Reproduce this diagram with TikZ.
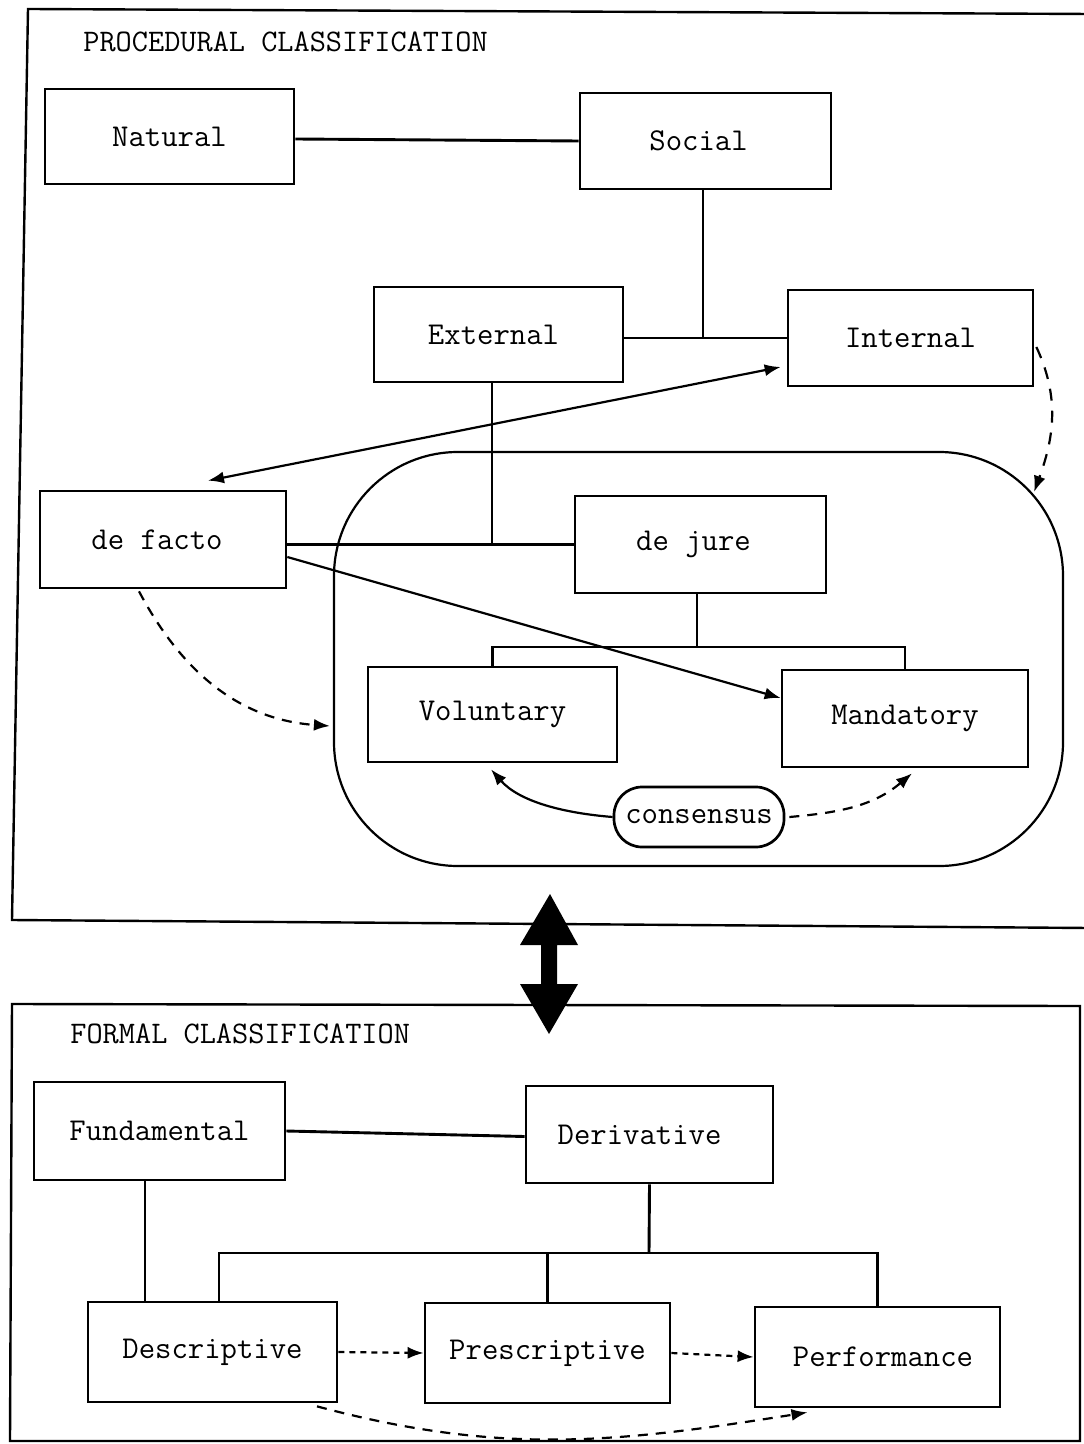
\documentclass[tikz,border=0pt]{standalone}
\usepackage{fontspec}
\usetikzlibrary{arrows.meta}
\newcommand\boxfont{\ttfamily\addfontfeatures{FakeBold=0.6}\fontsize{15.9}{18}\selectfont}
\newcommand\titlefont{\ttfamily\addfontfeatures{FakeBold=0.6}\fontsize{15.7}{18}\selectfont}
\newcommand\pad[1]{\rule{#1}{0pt}}
\tikzset{
  bx/.style={draw, line width=1.35pt, rectangle, inner sep=0pt, font=\boxfont},
  sz/.style 2 args={minimum width=#1, minimum height=#2},
  ln/.style={line width=1.45pt},
  thin/.style={line width=1.1pt},
  tip/.style={-{Latex[length=8pt,width=6pt]}},
  dsh/.style={line width=1.1pt, dash pattern=on 5pt off 4pt},
  ldsh/.style={line width=1.1pt, dash pattern=on 6pt off 5pt},
  dot/.style={line width=1.1pt, dash pattern=on 3pt off 2.5pt},
  frame/.style={line width=1.2pt},
}
\begin{document}
\begin{tikzpicture}[x=0.5pt,y=-0.5pt]
\useasboundingbox (0,0) rectangle (1083,1444);
% frames
\draw[frame] (28,9) -- (1090,14) -- (1090,928) -- (12,920) -- cycle;
\draw[frame] (12,1004) -- (1080,1006) -- (1080,1441) -- (10,1441) -- cycle;
% titles
\node[anchor=base west, inner sep=0pt, font=\titlefont] (t1) at (83,51.5) {PROCEDURAL CLASSIFICATION};
\node[anchor=base west, inner sep=0pt, font=\titlefont] (t2) at (70,1043) {FORMAL CLASSIFICATION};
% region
\node[draw, line width=1.1pt, rounded corners=62pt, minimum width=364.5pt, minimum height=207pt, inner sep=0pt] (reg) at (698.5,659) {};
% boxes
\node[bx, sz={124.5pt}{47.5pt}] (nat) at (169.5,136.5) {Natural};
\node[bx, sz={125.5pt}{48pt}] (soc) at (705.5,141) {Social\pad{7pt}};
\node[bx, sz={124.5pt}{47.5pt}] (ext) at (498.5,334.5) {External\pad{5pt}};
\node[bx, sz={122.5pt}{48pt}] (int) at (910.5,338) {Internal};
\node[bx, sz={123pt}{48.5pt}] (df) at (163,539.5) {de facto\pad{6pt}};
\node[bx, sz={125.5pt}{48.5pt}] (dj) at (700.5,544.5) {de jure\pad{7pt}};
\node[bx, sz={124.5pt}{47.5pt}] (vol) at (492.5,714.5) {Voluntary};
\node[bx, sz={123pt}{48.5pt}] (man) at (905,718.5) {Mandatory};
\node[bx, sz={85pt}{30pt}, rounded corners=14pt] (con) at (699,817) {consensus};
\node[bx, sz={125.5pt}{49pt}] (fun) at (159.5,1131) {Fundamental};
\node[bx, sz={123.5pt}{48.5pt}] (der) at (649.5,1134.5) {Derivative\pad{10pt}};
\node[bx, sz={124.5pt}{50pt}] (desc) at (212.5,1352) {Descriptive};
\node[bx, sz={122.5pt}{50pt}] (pres) at (547.5,1353) {Prescriptive};
\node[bx, sz={122.5pt}{50pt}] (perf) at (877.5,1357) {\pad{5.5pt}Performance};
% tree lines (procedural)
\draw[ln] ([yshift=-1.25pt]nat.east) -- (soc.west);
\draw[ln] (int.west -| ext.east) -- (int.west);
\draw[ln] ([xshift=-1.25pt]soc.south) -- ([xshift=-1.25pt]soc.south |- int.west);
\draw[ln] (dj.west -| df.east) -- (dj.west);
\draw[ln] ([xshift=-3.25pt]ext.south) coordinate (es) -- (es |- dj.west);
\coordinate (b1) at (697,647);
\draw[ln] (dj.south -| b1) -- (b1);
\draw[ln] (vol.north) |- (b1) -| (man.north);
% arrows (procedural)
\draw[thin, {Latex[length=8pt,width=6pt]}-{Latex[length=8pt,width=6pt]}]
  ([xshift=22.5pt,yshift=4.5pt]df.north) -- ([xshift=-3pt,yshift=-14.5pt]int.west);
\draw[thin, tip] ([yshift=-8.75pt]df.east) -- ([yshift=10.25pt]man.west);
\draw[ldsh, tip] ([xshift=1pt,yshift=-4.5pt]int.east) to[out=-65,in=70] ([xshift=-15pt,yshift=-20.5pt]reg.north east);
\draw[dsh, tip] ([xshift=-12pt,yshift=-1pt]df.south) to[out=-62,in=176] ([xshift=-1.5pt,yshift=-33.5pt]reg.west);
\draw[thin, tip] (con.west) .. controls +(-50,-4) and +(28,32) .. ([xshift=-0.75pt,yshift=-3pt]vol.south);
\draw[dsh, tip] ([xshift=2pt]con.east) to[out=5,in=-140] ([xshift=3.5pt,yshift=-2.5pt]man.south);
% big double arrow
\fill (550,894) -- (578,945) -- (557,945) -- (557,984) -- (578,984) -- (549,1034) -- (520,984) -- (541,984) -- (541,945) -- (520,945) -- cycle;
% tree lines (formal)
\draw[ln] (fun.east) -- ([yshift=-1pt]der.west);
\draw[ln] ([xshift=-7.25pt]fun.south) -- ([xshift=-7.25pt]fun.south |- desc.north);
\coordinate (b2) at (649,1253);
\draw[ln] (der.south) -- (b2);
\draw[ln] ([xshift=3.25pt]desc.north) |- (b2) -| (perf.north);
\draw[ln] (pres.north) -- (pres.north |- b2);
% arrows (formal)
\draw[dot, tip] (desc.east) -- (pres.west);
\draw[dot, tip] (pres.east) -- (perf.west);
\draw[dsh, tip] ([xshift=52.25pt,yshift=-1.5pt]desc.south) to[out=-15,in=189] ([xshift=-35pt,yshift=-2pt]perf.south);
\end{tikzpicture}
\end{document}
